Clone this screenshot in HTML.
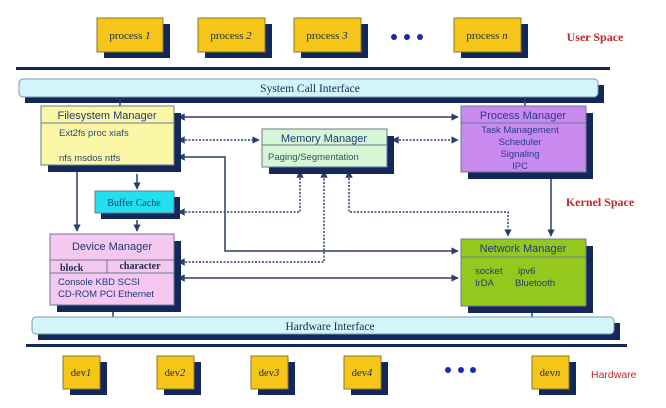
<!DOCTYPE html>
<html><head><meta charset="utf-8"><style>body{margin:0;background:#fff}svg{display:block}</style></head><body>
<svg width="666" height="408" viewBox="0 0 666 408" xmlns="http://www.w3.org/2000/svg">
<defs>
<marker id="a" viewBox="0 0 10 10" refX="9" refY="5" markerWidth="5" markerHeight="5" orient="auto-start-reverse"><path d="M0,0L10,5L0,10z" fill="#2c3e6b"/></marker>
</defs>
<g font-family="Liberation Serif, serif" font-size="11" fill="#1a2a50">
<!-- processes -->
<g>
<rect x="104" y="24" width="66" height="34" fill="#13275a"/><rect x="97" y="18" width="66" height="34" fill="#f5c518" stroke="#8a7a30"/><text x="130" y="39" text-anchor="middle">process <tspan font-style="italic">1</tspan></text>
<rect x="205" y="24" width="67" height="34" fill="#13275a"/><rect x="198" y="18" width="67" height="34" fill="#f5c518" stroke="#8a7a30"/><text x="231" y="39" text-anchor="middle">process <tspan font-style="italic">2</tspan></text>
<rect x="301" y="24" width="67" height="34" fill="#13275a"/><rect x="294" y="18" width="67" height="34" fill="#f5c518" stroke="#8a7a30"/><text x="327" y="39" text-anchor="middle">process <tspan font-style="italic">3</tspan></text>
<rect x="461" y="24" width="67" height="34" fill="#13275a"/><rect x="454" y="18" width="67" height="34" fill="#f5c518" stroke="#8a7a30"/><text x="487" y="39" text-anchor="middle">process <tspan font-style="italic">n</tspan></text>
</g>
<circle cx="394" cy="37" r="3" fill="#1a2ab0"/><circle cx="407" cy="37" r="3" fill="#1a2ab0"/><circle cx="420" cy="37" r="3" fill="#1a2ab0"/>
<text x="595" y="41" text-anchor="middle" fill="#c0282a" font-weight="bold" font-size="12">User Space</text>
<rect x="16" y="67" width="594" height="3" fill="#13275a"/>
<!-- SCI -->
<rect x="25" y="85" width="579" height="18" fill="#13275a"/>
<rect x="19" y="79" width="579" height="18" rx="4" fill="#d2f5fa" stroke="#7a9aa8"/>
<text x="310" y="92" text-anchor="middle" font-size="11.5">System Call Interface</text>
<line x1="120" y1="97" x2="120" y2="106" stroke="#2c3e6b" stroke-width="1.5"/>
<line x1="525" y1="97" x2="525" y2="106" stroke="#2c3e6b" stroke-width="1.5"/>
<!-- connectors -->
<g stroke="#2c3e6b" stroke-width="1.5" fill="none">
<line x1="178" y1="117" x2="458" y2="117" marker-start="url(#a)" marker-end="url(#a)"/>
<line x1="178" y1="140" x2="259" y2="140" stroke-dasharray="2,1.5" marker-start="url(#a)" marker-end="url(#a)"/>
<line x1="392" y1="140" x2="458" y2="140" stroke-dasharray="2,1.5" marker-start="url(#a)" marker-end="url(#a)"/>
<polyline points="178,157 225,157 225,251 458,251" marker-start="url(#a)" marker-end="url(#a)"/>
<line x1="77" y1="166" x2="77" y2="231" marker-end="url(#a)"/>
<line x1="137" y1="174" x2="137" y2="189" marker-end="url(#a)"/>
<line x1="137" y1="220" x2="137" y2="231" marker-end="url(#a)"/>
<line x1="551" y1="174" x2="551" y2="236" marker-end="url(#a)"/>
<line x1="178" y1="278" x2="458" y2="278" marker-start="url(#a)" marker-end="url(#a)"/>
<g stroke-dasharray="2,1.5">
<polyline points="178,212 300,212 300,171" marker-start="url(#a)" marker-end="url(#a)"/>
<polyline points="178,262 324,262 324,171" marker-start="url(#a)" marker-end="url(#a)"/>
<polyline points="349,171 349,212 508,212 508,236" marker-start="url(#a)" marker-end="url(#a)"/>
</g>
</g>
<!-- FS -->
<rect x="48" y="113" width="133" height="59" fill="#13275a"/>
<rect x="41" y="106" width="133" height="59" fill="#fbf7a6" stroke="#6b7a90"/>
<line x1="41" y1="123" x2="174" y2="123" stroke="#6b7a90"/>
<g font-family="Liberation Sans, sans-serif" fill="#1f3a80">
<text x="107" y="119" text-anchor="middle" font-size="11">Filesystem Manager</text>
<text x="59" y="136" font-size="9.5" fill="#2a4a70">Ext2fs  proc   xiafs</text>
<text x="59" y="161" font-size="9.5" fill="#2a4a70">nfs   msdos   ntfs</text>
</g>
<!-- MM -->
<rect x="269" y="136" width="125" height="38" fill="#13275a"/>
<rect x="262" y="129" width="125" height="38" fill="#d5f5d5" stroke="#6b7a90"/>
<line x1="262" y1="145" x2="387" y2="145" stroke="#6b7a90"/>
<g font-family="Liberation Sans, sans-serif" fill="#1f3a80">
<text x="324" y="142" text-anchor="middle" font-size="11">Memory Manager</text>
<text x="268" y="160" font-size="9.5" fill="#2a5a60">Paging/Segmentation</text>
</g>
<!-- PM -->
<rect x="468" y="113" width="125" height="66" fill="#13275a"/>
<rect x="461" y="106" width="125" height="66" fill="#c98af0" stroke="#6b7a90"/>
<line x1="461" y1="123" x2="586" y2="123" stroke="#6b7a90"/>
<g font-family="Liberation Sans, sans-serif" fill="#2a3a90" text-anchor="middle" font-size="9.5">
<text x="523" y="119" font-size="11">Process Manager</text>
<text x="520" y="133">Task Management</text>
<text x="520" y="145">Scheduler</text>
<text x="520" y="157">Signaling</text>
<text x="520" y="169">IPC</text>
</g>
<text x="600" y="206" text-anchor="middle" fill="#c0282a" font-weight="bold" font-size="12">Kernel Space</text>
<!-- Buffer cache -->
<rect x="101" y="197" width="79" height="22" fill="#13275a"/>
<rect x="95" y="191" width="79" height="22" fill="#22e0f0" stroke="#6b7a90"/>
<text x="134" y="206" text-anchor="middle" font-size="10" fill="#1f3a80">Buffer Cache</text>
<!-- DM -->
<rect x="57" y="241" width="124" height="71" fill="#13275a"/>
<rect x="50" y="234" width="124" height="71" fill="#f5c8f0" stroke="#6b7a90"/>
<line x1="50" y1="260" x2="174" y2="260" stroke="#6b7a90"/>
<line x1="50" y1="273" x2="174" y2="273" stroke="#6b7a90"/>
<line x1="107" y1="260" x2="107" y2="273" stroke="#6b7a90"/>
<text x="112" y="250" text-anchor="middle" font-family="Liberation Sans, sans-serif" font-size="11" fill="#1f3a80">Device Manager</text>
<text x="60" y="271" font-size="10" font-weight="bold">block</text>
<text x="140" y="269" text-anchor="middle" font-size="10" font-weight="bold">character</text>
<text x="58" y="285" font-family="Liberation Sans, sans-serif" font-size="9.5" fill="#1f3a80">Console  KBD  SCSI</text>
<text x="58" y="297" font-family="Liberation Sans, sans-serif" font-size="9.5" fill="#1f3a80">CD-ROM PCI  Ethernet</text>
<!-- NM -->
<rect x="468" y="246" width="125" height="67" fill="#13275a"/>
<rect x="461" y="239" width="125" height="67" fill="#95c81e" stroke="#6b7a90"/>
<line x1="461" y1="257" x2="586" y2="257" stroke="#6b7a90"/>
<g font-family="Liberation Sans, sans-serif" fill="#1f3a80" font-size="9.5">
<text x="523" y="252" text-anchor="middle" font-size="11">Network Manager</text>
<text x="475" y="274">socket</text><text x="518" y="274">ipv6</text>
<text x="475" y="286">IrDA</text><text x="515" y="286">Bluetooth</text>
</g>
<!-- HI -->
<line x1="113" y1="312" x2="113" y2="317" stroke="#2c3e6b" stroke-width="1.5"/>
<line x1="532" y1="313" x2="532" y2="317" stroke="#2c3e6b" stroke-width="1.5"/>
<rect x="38" y="323" width="582" height="17" fill="#13275a"/>
<rect x="32" y="317" width="582" height="17" rx="4" fill="#d2f5fa" stroke="#7a9aa8"/>
<text x="330" y="330" text-anchor="middle" font-size="11.5">Hardware Interface</text>
<rect x="26" y="344" width="601" height="3" fill="#13275a"/>
<!-- devs -->
<g font-size="10.5">
<rect x="70" y="362" width="37" height="33" fill="#13275a"/><rect x="63" y="356" width="37" height="33" fill="#f5c518" stroke="#8a7a30"/><text x="81" y="376" text-anchor="middle">dev<tspan font-style="italic">1</tspan></text>
<rect x="164" y="362" width="37" height="33" fill="#13275a"/><rect x="157" y="356" width="37" height="33" fill="#f5c518" stroke="#8a7a30"/><text x="175" y="376" text-anchor="middle">dev<tspan font-style="italic">2</tspan></text>
<rect x="258" y="362" width="37" height="33" fill="#13275a"/><rect x="251" y="356" width="37" height="33" fill="#f5c518" stroke="#8a7a30"/><text x="269" y="376" text-anchor="middle">dev<tspan font-style="italic">3</tspan></text>
<rect x="351" y="362" width="37" height="33" fill="#13275a"/><rect x="344" y="356" width="37" height="33" fill="#f5c518" stroke="#8a7a30"/><text x="362" y="376" text-anchor="middle">dev<tspan font-style="italic">4</tspan></text>
<rect x="539" y="362" width="37" height="33" fill="#13275a"/><rect x="532" y="356" width="37" height="33" fill="#f5c518" stroke="#8a7a30"/><text x="550" y="376" text-anchor="middle">dev<tspan font-style="italic">n</tspan></text>
</g>
<circle cx="448" cy="370" r="3" fill="#1a2ab0"/><circle cx="461" cy="370" r="3" fill="#1a2ab0"/><circle cx="473" cy="370" r="3" fill="#1a2ab0"/>
<text x="591" y="378" font-family="Liberation Sans, sans-serif" fill="#c0282a" font-size="10.5">Hardware</text>
</g>
</svg>
</body></html>
